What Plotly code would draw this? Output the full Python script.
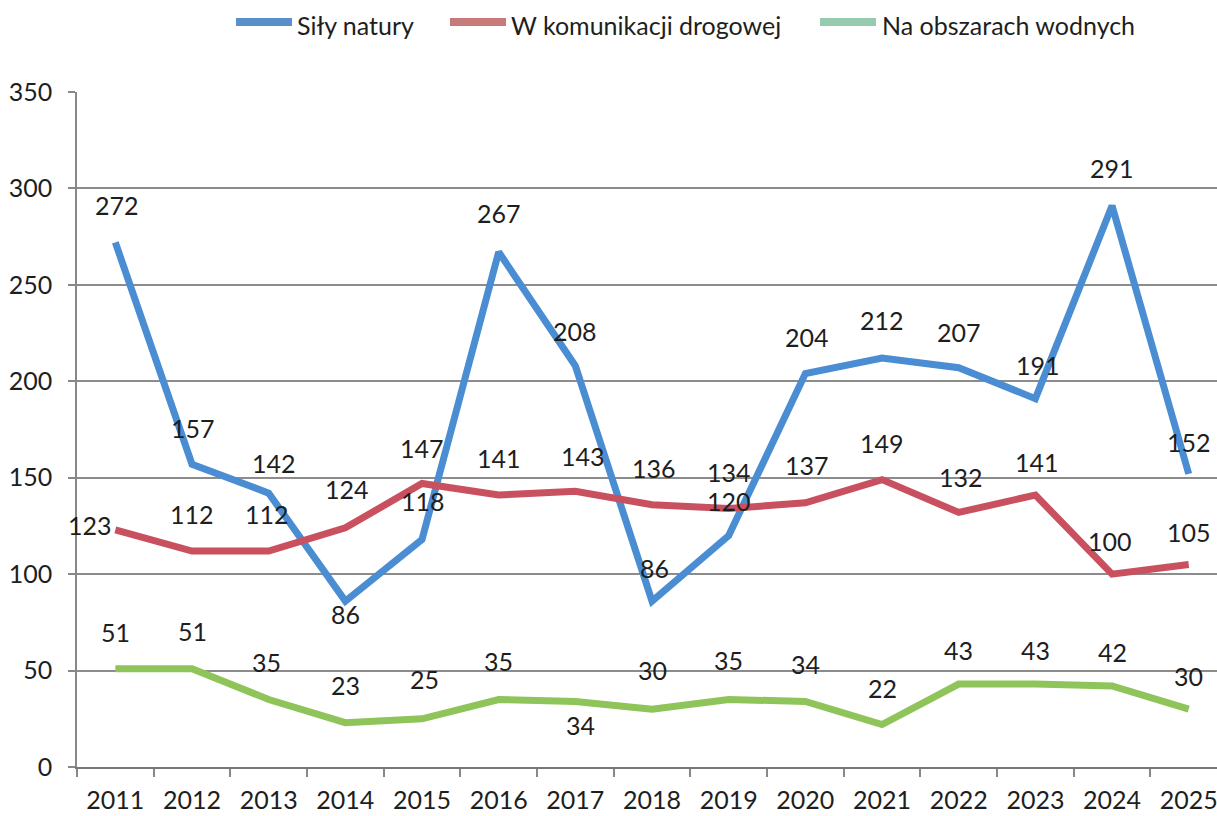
import plotly.graph_objects as go

years = ["2011", "2012", "2013", "2014", "2015", "2016", "2017", "2018",
         "2019", "2020", "2021", "2022", "2023", "2024", "2025"]
sily_natury = [272, 157, 142, 86, 118, 267, 208, 86, 120, 204, 212, 207, 191, 291, 152]
komunikacja = [123, 112, 112, 124, 147, 141, 143, 136, 134, 137, 149, 132, 141, 100, 105]
wodne = [51, 51, 35, 23, 25, 35, 34, 30, 35, 34, 22, 43, 43, 42, 30]
series_names = ["Siły natury", "W komunikacji drogowej", "Na obszarach wodnych"]
y_ticks = [0, 50, 100, 150, 200, 250, 300, 350]

# label offsets (pixels: x right, y up)
blue_dx = [2, 1, 5, 0, 1, 0, 0, 2, 0, 2, 0, 0, 3, 0, 0]
blue_dy = [37, 36, 30, -13, 38, 39, 35, 33, 35, 37, 38, 36, 34, 38, 32]
red_dx = [-25, 0, -2, 2, 0, 0, 8, 2, 0, 2, 0, 2, 2, -2, 0]
red_dy = [5, 37, 37, 39, 36, 37, 35, 37, 37, 38, 37, 35, 33, 33, 33]
green_dx = [0, 0, -2, 0, 2, 0, 5, 0, 0, 0, 0, 0, 0, 0, 0]
green_dy = [37, 38, 38, 38, 40, 39, -24, 39, 40, 37, 37, 34, 34, 34, 33]

colors = ["#4a8dd3", "#c9505f", "#8fc45a"]
legend_colors = ["#5b8fc9", "#c87a7a", "#96cbb0"]
FONT = "Lato"
TXT = "#1e1e1e"

W, H = 1217, 816
L, R, T, B = 77, 0, 92, 49
pw, ph = W - L - R, H - T - B
CAT_PX = 76.67
x_hi = -0.5 + pw / CAT_PX

fig = go.Figure()
all_series = [sily_natury, komunikacja, wodne]
for name, vals, col in zip(series_names, all_series, colors):
    fig.add_trace(go.Scatter(
        x=years, y=vals, mode="lines", name=name,
        line=dict(color=col, width=7), showlegend=False,
    ))

annotations = []
for vals, dxs, dys in [(sily_natury, blue_dx, blue_dy),
                       (komunikacja, red_dx, red_dy),
                       (wodne, green_dx, green_dy)]:
    for i, (v, dx, dy) in enumerate(zip(vals, dxs, dys)):
        annotations.append(dict(
            x=i, y=v, xref="x", yref="y", text=str(v), showarrow=False,
            xshift=dx, yshift=dy, font=dict(family=FONT, size=25, color=TXT),
            xanchor="center", yanchor="middle",
        ))

def px_x(p):
    return (p - L) / pw
def px_y(p):
    return (H - B - p) / ph

shapes = []
leg_line_x = [(236, 292), (450, 506), (820, 876)]
leg_text_x = [295, 509, 880]
for (x0, x1), tx, name, col in zip(leg_line_x, leg_text_x, series_names, legend_colors):
    shapes.append(dict(type="line", xref="paper", yref="paper",
                       x0=px_x(x0), x1=px_x(x1), y0=px_y(22), y1=px_y(22),
                       line=dict(color=col, width=8)))
    annotations.append(dict(x=px_x(tx), y=px_y(25), xref="paper", yref="paper",
                            text=name, showarrow=False, xanchor="left", yanchor="middle",
                            font=dict(family=FONT, size=25, color=TXT)))

fig.update_layout(
    width=W, height=H,
    margin=dict(l=L, r=R, t=T, b=B),
    paper_bgcolor="white", plot_bgcolor="white",
    annotations=annotations, shapes=shapes,
    showlegend=False,
)
fig.update_xaxes(
    type="category", range=[-0.5, x_hi],
    tickson="boundaries", ticks="outside", ticklen=8, tickwidth=1.5, tickcolor="#888888",
    showline=True, linecolor="#777777", linewidth=2,
    showgrid=False,
    tickfont=dict(family=FONT, size=25, color=TXT),
    ticklabelstandoff=10,
)
fig.update_yaxes(
    range=[0, 350], tickvals=y_ticks, ticktext=[str(t) for t in y_ticks],
    ticks="outside", ticklen=7, tickwidth=1.5, tickcolor="#888888",
    showline=True, linecolor="#888888", linewidth=1.5,
    showgrid=True, gridcolor="#8c8c8c", gridwidth=1.5,
    zeroline=False,
    tickfont=dict(family=FONT, size=25, color=TXT),
    ticklabelstandoff=11,
)

fig.write_html(
    "out.html",
    config={"displayModeBar": False},
    post_script="document.body.style.margin='0';document.body.style.overflow='hidden';",
)
